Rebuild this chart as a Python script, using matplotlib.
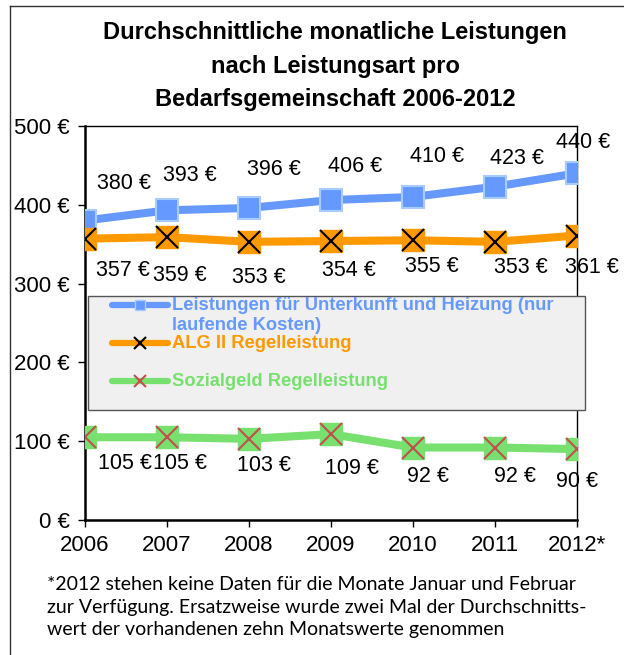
import matplotlib
matplotlib.use('Agg')
import matplotlib.pyplot as plt
from matplotlib.lines import Line2D
from matplotlib.patches import Rectangle

years = ['2006', '2007', '2008', '2009', '2010', '2011', '2012*']
kdu = [380, 393, 396, 406, 410, 423, 440]
alg2 = [357, 359, 353, 354, 355, 353, 361]
sozialgeld = [105, 105, 103, 109, 92, 92, 90]
names = ['Leistungen für Unterkunft und Heizung (nur\nlaufende Kosten)',
         'ALG II Regelleistung',
         'Sozialgeld Regelleistung']
yticks = [0, 100, 200, 300, 400, 500]

blue = '#6699ff'
orange = '#ff9900'
green = '#77e06e'

W, H = 624, 655


def fx(px):
    return px / W


def fy(py):
    return 1 - py / H


plt.rcParams['font.family'] = ['Liberation Sans', 'DejaVu Sans']

fig = plt.figure(figsize=(6.24, 6.55), dpi=100)
ax = fig.add_axes([fx(85), fy(520), 492 / W, 394 / H])

x = list(range(len(years)))

ax.plot(x, kdu, color=blue, lw=5.8, marker='s', ms=16, mfc=blue,
        mec='#a8ccff', mew=1.5, zorder=3)
ax.plot(x, alg2, color=orange, lw=5.8, marker='s', ms=16, mfc=orange,
        mec=orange, zorder=3)
ax.plot(x, alg2, ls='none', marker='x', ms=16, mec='black', mew=1.5, zorder=4)
ax.plot(x, sozialgeld, color=green, lw=5.8, marker='s', ms=16, mfc=green,
        mec=green, zorder=3)
ax.plot(x, sozialgeld, ls='none', marker='x', ms=16, mec='#c0504d', mew=1.5, zorder=4)

# data label offsets in pixels (dx right, dy up)
label_pos = [
    (kdu, [39, 23, 25, 24, 24, 22, 6], [37, 35, 38, 34, 40, 28, 31]),
    (alg2, [38, 13, 10, 18, 19, 26, 15], [-32, -38, -36, -29, -26, -26, -32]),
    (sozialgeld, [40, 13, 15, 21, 15, 20, 0], [-26, -26, -27, -34, -29, -29, -32]),
]
for vals, dxs, dys in label_pos:
    for i, v in enumerate(vals):
        ax.annotate(f'{v} €', (i, v), xytext=(dxs[i] * 0.72, dys[i] * 0.72),
                    textcoords='offset points', ha='center', va='center',
                    fontsize=15.5, annotation_clip=False)

ax.set_xlim(0, 6)
ax.set_ylim(0, 500)
ax.set_yticks(yticks)
ax.set_yticklabels([f'{t} €' for t in yticks])
ax.set_xticks(x)
ax.set_xticklabels(years)
ax.tick_params(axis='both', labelsize=16, length=5, width=1, direction='out')
ax.tick_params(axis='x', pad=6)
ax.tick_params(axis='y', pad=6)
for s in ['left', 'bottom']:
    ax.spines[s].set_linewidth(1.8)
for s in ['top', 'right']:
    ax.spines[s].set_linewidth(1.0)

# legend box drawn in figure pixels
fig.add_artist(Rectangle((fx(88), fy(410)), (585 - 88) / W, (410 - 296) / H,
                         facecolor='#f0f0f0', edgecolor='#555555', lw=1, zorder=5))
leg_y = [305, 343, 381]
leg_mk = [dict(marker='s', ms=7, mfc=blue, mec='#a8ccff', mew=1),
          dict(marker='x', ms=9, mec='black', mew=1.5),
          dict(marker='x', ms=9, mec='#c0504d', mew=1.5)]
for c, ly, mk in zip([blue, orange, green], leg_y, leg_mk):
    fig.add_artist(Line2D([fx(112), fx(168)], [fy(ly), fy(ly)], color=c, lw=4.5,
                          solid_capstyle='round', zorder=6))
    fig.add_artist(Line2D([fx(140)], [fy(ly)], color=c, ls='none', zorder=7, **mk))

# legend labels, one text per line
label_lines = [(names[0].split('\n')[0], blue, 305),
               (names[0].split('\n')[1], blue, 325),
               (names[1], orange, 343),
               (names[2], green, 381)]
for txt, c, ty in label_lines:
    fig.text(fx(172), fy(ty), txt, color=c, fontsize=13.2, fontweight='bold',
             ha='left', va='center', zorder=8)

fig.text(fx(335), fy(66),
         'Durchschnittliche monatliche Leistungen\nnach Leistungsart pro\nBedarfsgemeinschaft 2006-2012',
         ha='center', va='center', fontsize=17, fontweight='bold', linespacing=1.6)

fig.text(fx(47), fy(607),
         '*2012 stehen keine Daten für die Monate Januar und Februar\n'
         'zur Verfügung. Ersatzweise wurde zwei Mal der Durchschnitts-\n'
         'wert der vorhandenen zehn Monatswerte genommen',
         ha='left', va='center', fontsize=14, family=['Lato', 'DejaVu Sans'], linespacing=1.4)

# outer chart frame
fig.add_artist(Line2D([fx(10), fx(10)], [0, fy(6)], color='#333333', lw=1))
fig.add_artist(Line2D([fx(10), 1], [fy(6), fy(6)], color='#333333', lw=1))

fig.savefig('out.png', dpi=100)
plt.close()
